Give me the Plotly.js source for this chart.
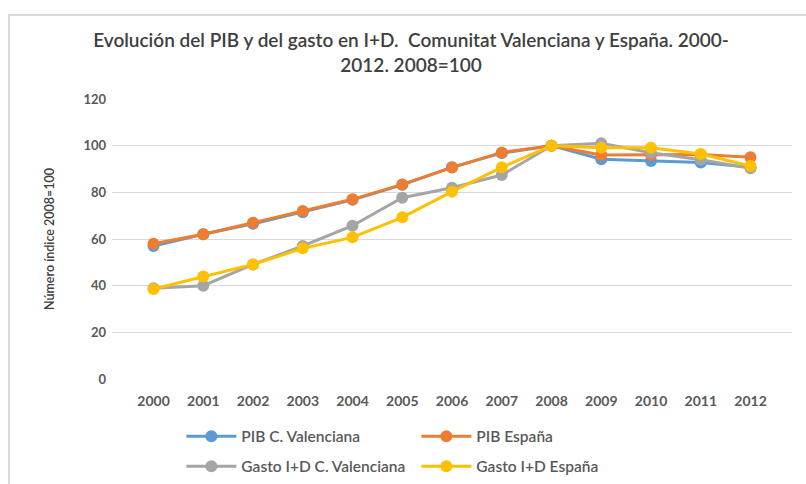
<!DOCTYPE html>
<html>
<head>
<meta charset="utf-8">
<script src="https://cdn.plot.ly/plotly-3.0.1.min.js"></script>
<style>
html,body{margin:0;padding:0;background:#fff;}
#wrap{position:relative;width:806px;height:484px;}
#chart{width:806px;height:484px;}
#frame{position:absolute;left:8px;top:14px;right:0;bottom:0;border-top:2px solid #d9d9d9;border-left:2px solid #d9d9d9;pointer-events:none;}
</style>
</head>
<body>
<div id="wrap"><div id="chart"></div><div id="frame"></div></div>
<script>
const years = ['2000','2001','2002','2003','2004','2005','2006','2007','2008','2009','2010','2011','2012'];
const pibCV   = [57, 62, 66.5, 71.5, 76.8, 83.2, 90.8, 96.8, 100, 94.2, 93.4, 92.8, 90.7];
const pibEsp  = [58, 62, 67, 72, 77, 83.4, 90.6, 97.1, 100, 96, 96, 96.2, 95];
const gastoCV = [38.9, 40, 49.1, 57, 65.7, 77.7, 82, 87.4, 100, 101, 97, 94, 90.3];
const gastoEsp= [38.6, 43.9, 49.1, 56, 60.7, 69.3, 80.3, 90.7, 100, 99.1, 99.1, 96.4, 91.3];
const yTicks = [0, 20, 40, 60, 80, 100, 120];

const FONT = 'Lato, "Open Sans", sans-serif';
function tr(name, y, color, leg){
  return {x: years, y: y, name: name, type: 'scatter', mode: 'lines+markers',
    line: {color: color, width: 3}, marker: {color: color, size: 12},
    legend: leg};
}
const data = [
  tr('PIB C. Valenciana', pibCV, '#5B9BD5', 'legend'),
  tr('PIB España', pibEsp, '#ED7D31', 'legend'),
  tr('Gasto I+D C. Valenciana', gastoCV, '#A5A5A5', 'legend2'),
  tr('Gasto I+D España', gastoEsp, '#FFC000', 'legend2')
];
const legBase = {orientation: 'h', xref: 'container', yref: 'container', xanchor: 'left', yanchor: 'middle',
  font: {family: FONT, size: 15.5, color: '#595959', weight: 600}, entrywidth: 170, entrywidthmode: 'pixels',
  itemwidth: 50, bgcolor: 'rgba(0,0,0,0)', traceorder: 'normal'};
const layout = {
  width: 806, height: 484,
  margin: {l: 112, r: 14, t: 99, b: 105},
  paper_bgcolor: '#fff', plot_bgcolor: '#fff',
  font: {family: FONT, color: '#595959'},
  title: {text: 'Evolución del PIB y del gasto en I+D.  Comunitat Valenciana y España. 2000-<br>2012. 2008=100',
    font: {family: FONT, size: 19, color: '#404040', weight: 600}, x: 0.51, xanchor: 'center', y: 0.903, yanchor: 'middle'},
  xaxis: {type: 'category', tickvals: years, ticktext: years, showgrid: false, zeroline: false, showline: false,
    ticks: '', tickfont: {family: FONT, size: 14, color: '#595959', weight: 'bold'}, ticklabelstandoff: 12},
  yaxis: {range: [0, 120], tickvals: yTicks, ticktext: yTicks.map(String), showgrid: true, gridcolor: '#d9d9d9', gridwidth: 1,
    zeroline: false, showline: false, ticks: '', tickfont: {family: FONT, size: 13, color: '#595959', weight: 'bold'},
    ticklabelstandoff: 5,
    title: {text: 'Número índice 2008=100', font: {family: FONT, size: 12.5, color: '#404040', weight: 600}, standoff: 26}},
  legend: Object.assign({}, legBase, {x: 0.225, y: 0.098}),
  legend2: Object.assign({}, legBase, {x: 0.225, y: 0.036}),
  showlegend: true
};
Plotly.newPlot('chart', data, layout, {displayModeBar: false, staticPlot: true});
</script>
</body>
</html>
